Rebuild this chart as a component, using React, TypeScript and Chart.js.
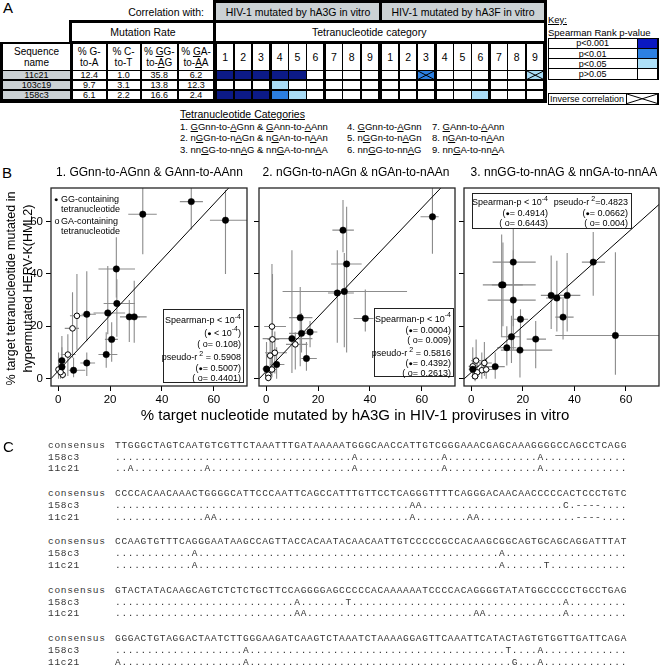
import React, { useEffect, useRef } from 'react';
import { Chart, registerables } from 'chart.js';

Chart.register(...registerables);

const SANS = "'Liberation Sans', Arial, Helvetica, sans-serif";
const MONO = "'Liberation Mono', 'Courier New', monospace";

// ---------------- Panel A data ----------------
const SEQUENCE_NAMES = ['11c21', '103c19', '158c3'];
const RATE_HEADERS = [['% G-', 'to-A'], ['% C-', 'to-T'], ['% _GG-', 'to-_AG'], ['% _GA-', 'to-_AA']];
const MUTATION_RATES = [
  [12.4, 1.0, 35.8, 6.2],
  [9.7, 3.1, 13.8, 12.3],
  [6.1, 2.2, 16.6, 2.4],
];
const CATEGORY_NUMBERS = [1, 2, 3, 4, 5, 6, 7, 8, 9];
// significance level: 3 = p<0.001, 2 = p<0.01, 1 = p<0.05, 0 = p>0.05
const SIG_HA3G = [
  [3, 3, 3, 3, 3, 0, 0, 0, 0],
  [0, 0, 0, 1, 0, 0, 0, 0, 0],
  [3, 3, 3, 2, 1, 0, 0, 0, 0],
];
const SIG_HA3F = [
  [0, 0, 2, 0, 0, 0, 0, 0, 1],
  [0, 0, 0, 0, 0, 0, 0, 0, 0],
  [0, 0, 0, 0, 0, 1, 0, 0, 0],
];
const INVERSE_HA3F = [
  [0, 0, 1, 0, 0, 0, 0, 0, 1],
  [0, 0, 0, 0, 0, 0, 0, 0, 0],
  [0, 0, 0, 0, 0, 0, 0, 0, 0],
];
const KEY_LABELS = ['p<0.001', 'p<0.01', 'p<0.05', 'p>0.05'];
const CATEGORY_COL1 = ['1. _GGnn-to-_AGnn & _GAnn-to-_AAnn', '2. n_GGn-to-n_AGn & n_GAn-to-n_AAn', '3. nn_GG-to-nn_AG & nn_GA-to-nn_AA'];
const CATEGORY_COL2 = ['4. _GGnn-to-_AGnn', '5. n_GGn-to-n_AGn', '6. nn_GG-to-nn_AG'];
const CATEGORY_COL3 = ['7. _GAnn-to-_AAnn', '8. n_GAn-to-n_AAn', '9. nn_GA-to-nn_AA'];

// ---------------- Panel B data ----------------
// each point: [x, y, xLow, xHigh, yLow, yHigh]
const AXIS_MIN = -2.8;
const AXIS_MAX = 72.8;
const X_TICKS = [0, 20, 40, 60];
const Y_TICKS = [0, 20, 40, 60];
const PLOT_TITLES = ['1. GGnn-to-AGnn & GAnn-to-AAnn', '2. nGGn-to-nAGn & nGAn-to-nAAn', '3. nnGG-to-nnAG & nnGA-to-nnAA'];

const P1_GG = [
  [32.6, 62.8, 27.0, 38.0, 47.5, 80],
  [51.3, 67.6, 46.9, 55.8, 57.0, 80],
  [64.5, 60.5, 58.5, 76.0, 40.0, 72.0],
  [22.4, 41.9, 15.5, 29.6, 31.0, 54.0],
  [22.6, 28.7, 17.5, 29.6, 16.0, 38.0],
  [19.1, 25.1, 13.6, 25.8, 17.0, 43.0],
  [27.4, 23.6, 23.8, 31.5, 14.0, 30.0],
  [29.3, 23.6, 26.5, 34.1, 13.7, 37.4],
  [11.0, 24.6, 9.0, 14.5, 14.3, 41.0],
  [20.6, 15.0, 18.0, 23.0, 6.5, 21.5],
  [18.5, 9.2, 15.5, 22.8, 4.2, 17.7],
  [11.0, 6.0, 8.5, 14.2, 1.0, 10.0],
  [5.9, 3.2, 4.0, 10.4, 0.5, 8.0],
  [1.4, 6.9, 0.5, 2.5, 0.9, 16.3],
  [1.4, 4.5, 0.3, 2.8, 0.5, 12.0],
];
const P1_GA = [
  [7.2, 24.0, 4.5, 11.0, 11.0, 40.0],
  [5.5, 19.2, 2.5, 8.0, 8.0, 33.0],
  [3.7, 9.2, 1.0, 6.7, 1.0, 17.0],
  [0.1, 3.5, -1.0, 1.5, 0.0, 10.0],
  [1.7, 1.5, 0.5, 3.0, 0.0, 5.0],
  [0.9, 2.5, 0.0, 2.0, 0.0, 6.0],
];
const P1_LINE = [[-2.8, 0.0], [66.2, 73.3]];

const P2_GG = [
  [64.1, 61.8, 59.5, 66.5, 47.7, 80],
  [29.6, 56.7, 25.5, 33.8, 48.3, 68.2],
  [31.0, 43.8, 25.0, 36.8, 10.0, 65.6],
  [27.4, 32.7, 23.8, 33.8, 13.7, 49.0],
  [30.1, 33.3, 6.3, 54.3, 12.0, 48.0],
  [38.2, 23.0, 33.7, 41.4, 18.0, 34.0],
  [13.1, 23.3, 8.8, 17.8, 4.7, 35.0],
  [13.6, 17.3, 8.8, 18.1, 10.0, 25.0],
  [16.9, 17.8, 13.3, 19.7, 12.0, 22.0],
  [9.9, 15.3, -1.4, 17.8, 2.2, 49.0],
  [15.5, 7.7, 13.5, 19.5, 3.0, 14.0],
  [4.0, 5.4, 1.5, 7.0, 0.0, 12.0],
  [0.1, 3.7, -1.5, 2.0, 0.0, 14.0],
];
const P2_GA = [
  [2.2, 19.9, -0.8, 7.6, 4.7, 43.8],
  [2.4, 15.0, 0.5, 5.0, 3.0, 40.0],
  [3.3, 9.9, -0.5, 8.0, 2.0, 18.0],
  [1.5, 8.8, 0.0, 3.5, 2.0, 16.0],
  [11.2, 13.1, 7.6, 15.9, 3.5, 17.7],
  [2.2, 3.5, 0.5, 4.0, 0.5, 8.0],
  [0.8, 1.5, 0.0, 2.0, 0.0, 4.0],
  [0.8, 0.3, 0.0, 1.8, -1.0, 2.0],
];
const P2_LINE = [[-2.8, -0.1], [67.8, 73.3]];

const P3_GG = [
  [47.3, 44.5, 42.9, 51.9, 31.7, 56.0],
  [16.3, 44.5, 8.3, 25.0, 20.0, 62.0],
  [11.8, 35.8, 4.5, 25.0, 16.0, 55.0],
  [12.3, 35.8, 8.0, 20.0, 20.0, 52.0],
  [16.3, 30.0, 6.4, 25.0, 11.0, 49.0],
  [31.0, 31.8, 27.0, 35.0, 19.0, 47.0],
  [37.2, 31.8, 31.4, 42.3, 18.0, 48.0],
  [33.2, 30.8, 29.0, 37.0, 18.0, 45.0],
  [35.6, 23.5, 32.6, 39.7, 15.0, 30.4],
  [19.1, 22.7, 16.0, 22.0, 11.2, 26.5],
  [55.9, 16.5, 32.6, 76.0, 1.5, 48.3],
  [25.0, 15.1, 21.5, 29.0, 4.0, 22.0],
  [15.6, 16.0, 11.5, 19.0, 6.0, 24.0],
  [13.8, 11.8, 10.0, 17.5, 5.0, 20.0],
  [18.9, 10.9, 11.5, 31.4, 0.4, 18.8],
  [9.3, 4.6, 4.6, 13.0, 0.0, 10.0],
  [0.6, 3.6, -1.0, 2.5, 0.0, 8.0],
];
const P3_GA = [
  [1.9, 6.9, 0.0, 4.0, 1.0, 15.0],
  [5.1, 6.0, 3.0, 8.0, 1.0, 14.0],
  [0.6, 4.7, -1.0, 3.0, 0.0, 12.0],
  [4.1, 3.2, 1.5, 7.0, 0.0, 10.0],
  [5.8, 3.5, 3.0, 9.0, 0.0, 8.0],
  [2.3, 2.4, 0.5, 4.5, 0.0, 6.0],
  [1.5, 0.9, 0.0, 3.0, -1.0, 4.0],
];
const P3_LINE = [[-2.8, -0.1], [72.8, 66.5]];

// ---------------- Panel C data ----------------
const CONSENSUS = [
  'TTGGGCTAGTCAATGTCGTTCTAAATTTGATAAAAATGGGCAACCATTGTCGGGAAACGAGCAAAGGGGCCAGCCTCAGG',
  'CCCCACAACAAACTGGGGCATTCCCAATTCAGCCATTTGTTCCTCAGGGTTTTCAGGGACAACAACCCCCACTCCCTGTC',
  'CCAAGTGTTTCAGGGAATAAGCCAGTTACCACAATACAACAATTGTCCCCCGCCACAAGCGGCAGTGCAGCAGGATTTAT',
  'GTACTATACAAGCAGTCTCTCTGCTTCCAGGGGAGCCCCCACAAAAAATCCCCACAGGGGTATATGGCCCCCTGCCTGAG',
  'GGGACTGTAGGACTAATCTTGGGAAGATCAAGTCTAAATCTAAAAGGAGTTCAAATTCATACTAGTGTGGTTGATTCAGA',
];
const MUT_158C3: [number, string][][] = [
  [[37, 'A'], [51, 'A'], [66, 'A']],
  [[46, 'A'], [47, 'A'], [70, 'C'], [72, '-'], [73, '-'], [74, '-'], [75, '-']],
  [[12, 'A'], [60, 'A']],
  [[28, 'A'], [36, 'T'], [70, 'A']],
  [[20, 'A'], [61, 'T'], [66, 'A']],
];
const MUT_11C21: [number, string][][] = [
  [[2, 'A'], [14, 'A'], [37, 'A'], [51, 'A'], [66, 'A']],
  [[14, 'A'], [15, 'A'], [46, 'A'], [55, 'A'], [56, 'A'], [72, '-'], [73, '-'], [74, '-'], [75, '-']],
  [[12, 'A'], [60, 'A'], [67, 'T']],
  [[28, 'A'], [29, 'A'], [56, 'A'], [57, 'A'], [70, 'A']],
  [[0, 'A'], [20, 'A'], [62, 'G'], [66, 'A']],
];

// ---------------- helpers ----------------
const abs = (x: number, y: number, w: number, h: number, extra: any = {}): any => ({
  position: 'absolute', left: x, top: y, width: w, height: h, boxSizing: 'border-box', ...extra,
});

function Txt({ x, y, s = 10, a = 'l', children, style = {} }: any) {
  const lh = Math.round(s * 1.3);
  const st: any = { position: 'absolute', top: y - lh / 2, lineHeight: lh + 'px', fontSize: s, whiteSpace: 'nowrap', ...style };
  if (a === 'l') st.left = x;
  else if (a === 'r') st.right = 664 - x;
  else { st.left = x - 300; st.width = 600; st.textAlign = 'center'; }
  return <div style={st}>{children}</div>;
}

function ul(s: string) {
  return s.split(/(_.)/).filter(Boolean).map((p, i) =>
    p[0] === '_' && p.length === 2 ? <u key={i}>{p[1]}</u> : <span key={i}>{p}</span>
  );
}

const Sup = ({ c }: any) => <span style={{ fontSize: '0.78em', position: 'relative', top: '-0.6em' }}>{c}</span>;
const Dot = () => <span style={{ fontSize: '0.8em' }}>●</span>;

function Cross({ w, h }: any) {
  return (
    <svg width={w} height={h} style={{ position: 'absolute', left: 0, top: 0 }}>
      <line x1={0} y1={0} x2={w} y2={h} stroke="#000" strokeWidth={1} />
      <line x1={0} y1={h} x2={w} y2={0} stroke="#000" strokeWidth={1} />
    </svg>
  );
}

// ---------------- Panel A ----------------
const TABLE_COLORS = ['#ffffff', '#a9dcf6', '#2c7fe0', '#0c1a86'];
const KEY_COLORS = ['#0a18c2', '#2c80e2', '#aee0f8', '#ffffff'];

function PanelA() {
  const GRAY = '#cbd1d4';
  const G0 = 216, F0 = 381, CW = 18.1;
  const ROW_Y = [71, 80.9, 90.8];
  const RH = 8.4;
  const RATE_X = [[73, 105.5], [107.5, 139.5], [141.5, 177], [179, 213]];
  const catX = (g: number, i: number) => g + i * CW + 0.75 + (i === 3 || i === 6 ? 0.5 : 0);
  const catW = (i: number) => CW - 1.5 - (i === 2 || i === 5 ? 0.5 : 0) - (i === 3 || i === 6 ? 0.5 : 0);
  const els: any[] = [];

  els.push(<div key="snh" style={abs(3, 44, 67, 25.5, { background: '#fff' })} />);
  els.push(<Txt key="snt1" x={36.5} y={51} s={10} a="c">Sequence</Txt>);
  els.push(<Txt key="snt2" x={36.5} y={62.5} s={10} a="c">name</Txt>);
  RATE_HEADERS.forEach((h, j) => {
    const [x0, x1] = RATE_X[j];
    els.push(<div key={'rh' + j} style={abs(x0, 44, x1 - x0, 25.5, { background: '#fff' })} />);
    els.push(<Txt key={'rt1' + j} x={(x0 + x1) / 2} y={51} s={10} a="c">{ul(h[0])}</Txt>);
    els.push(<Txt key={'rt2' + j} x={(x0 + x1) / 2} y={62.5} s={10} a="c">{ul(h[1])}</Txt>);
  });
  [G0, F0].forEach((g, gi) => {
    CATEGORY_NUMBERS.forEach((n, i) => {
      els.push(<div key={`ch${gi}-${i}`} style={abs(catX(g, i), 44, catW(i), 25.5, { background: '#fff' })} />);
      els.push(<Txt key={`cn${gi}-${i}`} x={catX(g, i) + catW(i) / 2} y={57} s={10.5} a="c">{n}</Txt>);
    });
  });
  SEQUENCE_NAMES.forEach((name, r) => {
    const y = ROW_Y[r];
    els.push(<div key={'sn' + r} style={abs(3, y, 67, RH, { background: GRAY })} />);
    els.push(<Txt key={'snn' + r} x={36.5} y={y + RH / 2} s={9} a="c">{name}</Txt>);
    MUTATION_RATES[r].forEach((v, j) => {
      const [x0, x1] = RATE_X[j];
      els.push(<div key={`rv${r}-${j}`} style={abs(x0, y, x1 - x0, RH, { background: '#fff' })} />);
      els.push(<Txt key={`rvt${r}-${j}`} x={(x0 + x1) / 2} y={y + RH / 2} s={9} a="c">{v.toFixed(1)}</Txt>);
    });
    [[G0, SIG_HA3G[r], null], [F0, SIG_HA3F[r], INVERSE_HA3F[r]]].forEach(([g, sig, inv]: any, gi) => {
      sig.forEach((lv: number, i: number) => {
        const w = catW(i);
        els.push(
          <div key={`cc${r}-${gi}-${i}`} style={abs(catX(g, i), y, w, RH, { background: TABLE_COLORS[lv] })}>
            {inv && inv[i] ? <Cross w={w} h={RH} /> : null}
          </div>
        );
      });
    });
  });

  return (
    <>
      <Txt x={3} y={8} s={15}>A</Txt>
      <Txt x={204} y={12} s={10.5} a="r">Correlation with:</Txt>
      <div style={abs(213, 0, 169, 23, { background: GRAY, border: '3px solid #000' })} />
      <div style={abs(379, 0, 168, 23, { background: GRAY, border: '3px solid #000' })} />
      <Txt x={298} y={11.5} s={10.5} a="c">HIV-1 mutated by hA3G in vitro</Txt>
      <Txt x={463} y={11.5} s={10.5} a="c">HIV-1 mutated by hA3F in vitro</Txt>
      <div style={abs(69, 20, 148, 24, { background: '#fff', border: '3px solid #000' })} />
      <Txt x={143} y={32} s={10.5} a="c">Mutation Rate</Txt>
      <div style={abs(213, 20, 334, 24, { background: '#fff', border: '3px solid #000' })} />
      <Txt x={312} y={32} s={10.5}>Tetranucleotide category</Txt>
      <div style={abs(0, 41.5, 547, 61, { background: '#000' })} />
      {els}

      <Txt x={548} y={20} s={9.5}><u>Key:</u></Txt>
      <Txt x={548} y={33} s={9.5}>Spearman Rank p-value</Txt>
      <div style={abs(547.5, 37.5, 111, 42.5, { background: '#000' })} />
      {KEY_LABELS.map((lab, k) => (
        <React.Fragment key={lab}>
          <div style={abs(549, 38.8 + k * 10.2, 87.5, 9.2, { background: '#fff' })} />
          <div style={abs(637.5, 38.8 + k * 10.2, 19.5, 9.2, { background: KEY_COLORS[k] })} />
          <Txt x={592.7} y={38.8 + k * 10.2 + 4.6} s={9} a="c">{lab}</Txt>
        </React.Fragment>
      ))}
      <div style={abs(547.5, 92.5, 111, 12.5, { background: '#000' })} />
      <div style={abs(549, 94, 76.5, 9.5, { background: '#fff' })} />
      <Txt x={587} y={98.7} s={9} a="c">Inverse correlation</Txt>
      <div style={abs(626.5, 94, 30.5, 9.5, { background: '#fff' })}><Cross w={30.5} h={9.5} /></div>

      <Txt x={180} y={114} s={10.5}><u>Tetranucleotide Categories</u></Txt>
      {CATEGORY_COL1.map((t, i) => <Txt key={'c1' + i} x={180} y={127 + i * 11.3} s={9.5}>{ul(t)}</Txt>)}
      {CATEGORY_COL2.map((t, i) => <Txt key={'c2' + i} x={347} y={127 + i * 11.3} s={9.5}>{ul(t)}</Txt>)}
      {CATEGORY_COL3.map((t, i) => <Txt key={'c3' + i} x={432} y={127 + i * 11.3} s={9.5}>{ul(t)}</Txt>)}
    </>
  );
}

// ---------------- Panel B ----------------
function ScatterPanel({ left, top, width, height, frame, gg, ga, line, showYLabels }: any) {
  const ref = useRef<HTMLCanvasElement>(null);
  useEffect(() => {
    const yw = frame.l - left;
    const pr = left + width - frame.r;
    const pt = frame.t - top;
    const xh = top + height - frame.b;
    const errPlugin = {
      id: 'errbars',
      beforeDatasetsDraw(chart: any) {
        const { ctx, chartArea: a, scales } = chart;
        const xs = scales.x, ys = scales.y;
        ctx.save();
        ctx.beginPath();
        ctx.rect(a.left, a.top, a.right - a.left, a.bottom - a.top);
        ctx.clip();
        ctx.strokeStyle = '#8c8c8c';
        ctx.lineWidth = 1.1;
        for (const p of [...ga, ...gg]) {
          const px = xs.getPixelForValue(p[0]);
          const py = ys.getPixelForValue(p[1]);
          ctx.beginPath();
          ctx.moveTo(xs.getPixelForValue(p[2]), py);
          ctx.lineTo(xs.getPixelForValue(p[3]), py);
          ctx.moveTo(px, ys.getPixelForValue(p[4]));
          ctx.lineTo(px, ys.getPixelForValue(p[5]));
          ctx.stroke();
        }
        ctx.restore();
      },
    };
    const framePlugin = {
      id: 'frame',
      afterDatasetsDraw(chart: any) {
        const { ctx, chartArea: a } = chart;
        ctx.save();
        ctx.strokeStyle = '#262626';
        ctx.lineWidth = 1.3;
        ctx.strokeRect(a.left, a.top, a.right - a.left, a.bottom - a.top);
        ctx.restore();
      },
    };
    const tickFont = { family: SANS, size: 11.5 };
    const grid = { display: true, drawOnChartArea: false, drawTicks: true, tickLength: 5, color: '#000', lineWidth: 1 };
    const chart = new Chart(ref.current as HTMLCanvasElement, {
      type: 'scatter',
      data: {
        datasets: [
          {
            data: gg.map((p: number[]) => ({ x: p[0], y: p[1] })),
            pointRadius: 3.2, pointBackgroundColor: '#000', pointBorderColor: '#000', pointBorderWidth: 0.5,
          },
          {
            data: ga.map((p: number[]) => ({ x: p[0], y: p[1] })),
            pointRadius: 2.8, pointBackgroundColor: '#fff', pointBorderColor: '#000', pointBorderWidth: 1,
          },
          {
            data: line.map((p: number[]) => ({ x: p[0], y: p[1] })),
            showLine: true, borderColor: '#000', borderWidth: 1, pointRadius: 0, fill: false, clip: 0,
          },
        ],
      } as any,
      options: {
        animation: false,
        responsive: false,
        maintainAspectRatio: false,
        devicePixelRatio: 1,
        events: [],
        layout: { padding: { left: 0, right: pr, top: pt, bottom: 0 } },
        plugins: { legend: { display: false }, tooltip: { enabled: false }, title: { display: false } },
        scales: {
          x: {
            type: 'linear', min: AXIS_MIN, max: AXIS_MAX,
            afterBuildTicks: (s: any) => { s.ticks = X_TICKS.map((v) => ({ value: v })); },
            afterFit: (s: any) => { s.height = xh; },
            grid, border: { display: false },
            ticks: { font: tickFont, color: '#000', padding: 2, maxRotation: 0, autoSkip: false },
          },
          y: {
            type: 'linear', min: AXIS_MIN, max: AXIS_MAX,
            afterBuildTicks: (s: any) => { s.ticks = Y_TICKS.map((v) => ({ value: v })); },
            afterFit: (s: any) => { s.width = yw; },
            grid, border: { display: false },
            ticks: { display: showYLabels, font: tickFont, color: '#000', padding: 3, autoSkip: false },
          },
        },
      } as any,
      plugins: [errPlugin, framePlugin],
    });
    return () => chart.destroy();
  }, []);
  return <canvas ref={ref} width={width} height={height} style={abs(left, top, width, height)} />;
}

function PanelB() {
  const FT = 188, FB = 386;
  return (
    <>
      <ScatterPanel left={20} top={176} width={232} height={234} frame={{ l: 51, r: 248, t: FT, b: FB }} gg={P1_GG} ga={P1_GA} line={P1_LINE} showYLabels={true} />
      <ScatterPanel left={250} top={176} width={210} height={234} frame={{ l: 259, r: 456, t: FT, b: FB }} gg={P2_GG} ga={P2_GA} line={P2_LINE} showYLabels={false} />
      <ScatterPanel left={455} top={176} width={209} height={234} frame={{ l: 464, r: 661, t: FT, b: FB }} gg={P3_GG} ga={P3_GA} line={P3_LINE} showYLabels={false} />

      <Txt x={2} y={173} s={15}>B</Txt>
      <Txt x={149.5} y={172} s={12} a="c">{PLOT_TITLES[0]}</Txt>
      <Txt x={356} y={172} s={12} a="c">{PLOT_TITLES[1]}</Txt>
      <Txt x={564} y={172} s={12} a="c">{PLOT_TITLES[2]}</Txt>

      <div style={abs(18.5 - 130, 288 - 16.5, 260, 33, { transform: 'rotate(-90deg)', textAlign: 'center', fontSize: 12.5, lineHeight: '16.5px', whiteSpace: 'nowrap' })}>
        <div>% target tetranucleotide mutated in</div>
        <div>hypermutated HERV-K(HML2)</div>
      </div>
      <Txt x={355} y={415} s={15} a="c">% target nucleotide mutated by hA3G in HIV-1 proviruses in vitro</Txt>

      <Txt x={54} y={199} s={9}><Dot /></Txt>
      <Txt x={61} y={199} s={9}>GG-containing</Txt>
      <Txt x={61} y={209} s={9}>tetranucleotide</Txt>
      <Txt x={54.5} y={220.5} s={9}>o</Txt>
      <Txt x={61} y={220.5} s={9}>GA-containing</Txt>
      <Txt x={61} y={230.5} s={9}>tetranucleotide</Txt>

      <div style={abs(163, 309, 81, 74, { border: '1px solid #222', background: '#fff' })} />
      <Txt x={241} y={320} s={9} a="r">Spearman-p &lt; 10<Sup c="-4" /></Txt>
      <Txt x={241} y={332.5} s={9} a="r">(<Dot /> &lt; 10<Sup c="-4" />)</Txt>
      <Txt x={241} y={343.5} s={9} a="r">( o= 0.108)</Txt>
      <Txt x={241} y={357} s={9} a="r">pseudo-r<Sup c=" 2" /> = 0.5908</Txt>
      <Txt x={241} y={367.5} s={9} a="r">(<Dot />= 0.5007)</Txt>
      <Txt x={241} y={378} s={9} a="r">( o= 0.4401)</Txt>

      <div style={abs(374, 308, 80, 69, { border: '1px solid #222', background: '#fff' })} />
      <Txt x={451} y={318.5} s={9} a="r">Spearman-p &lt; 10<Sup c="-4" /></Txt>
      <Txt x={451} y={329.5} s={9} a="r">(<Dot />= 0.0004)</Txt>
      <Txt x={451} y={340} s={9} a="r">( o= 0.009)</Txt>
      <Txt x={451} y={353} s={9} a="r">pseudo-r<Sup c=" 2" /> = 0.5816</Txt>
      <Txt x={451} y={363} s={9} a="r">(<Dot />= 0.4392)</Txt>
      <Txt x={451} y={372.5} s={9} a="r">( o= 0.2613)</Txt>

      <div style={abs(472, 193, 160, 36, { border: '1px solid #222', background: '#fff' })} />
      <Txt x={548} y={202} s={9} a="r">Spearman-p &lt; 10<Sup c="-4" /></Txt>
      <Txt x={548} y={212.5} s={9} a="r">(<Dot />= 0.4914)</Txt>
      <Txt x={548} y={222.5} s={9} a="r">( o= 0.6443)</Txt>
      <Txt x={628} y={202} s={9} a="r">pseudo-r<Sup c=" 2" />=0.4823</Txt>
      <Txt x={628} y={212.5} s={9} a="r">(<Dot />= 0.0662)</Txt>
      <Txt x={628} y={222.5} s={9} a="r">( o= 0.004)</Txt>
    </>
  );
}

// ---------------- Panel C ----------------
function mutantRow(muts: [number, string][], len: number) {
  const arr = new Array(len).fill('.');
  muts.forEach(([i, c]) => { arr[i] = c; });
  return arr.join('');
}

function PanelC() {
  const monoStyle = { fontFamily: MONO, letterSpacing: '0.7px', color: '#333' };
  const rows: any[] = [];
  CONSENSUS.forEach((seq, b) => {
    const yc = 445.7 + b * 48.35;
    const lines: [string, string][] = [
      ['consensus', seq],
      ['158c3', mutantRow(MUT_158C3[b], seq.length)],
      ['11c21', mutantRow(MUT_11C21[b], seq.length)],
    ];
    lines.forEach(([lab, s], k) => {
      const y = yc + [0, 12, 23.7][k];
      rows.push(<Txt key={`l${b}-${k}`} x={48} y={y} s={9.5} style={monoStyle}>{lab}</Txt>);
      rows.push(<Txt key={`s${b}-${k}`} x={115} y={y} s={9.5} style={monoStyle}>{s}</Txt>);
    });
  });
  return (
    <>
      <Txt x={3} y={447} s={15}>C</Txt>
      {rows}
    </>
  );
}

export default function App() {
  return (
    <div style={{ position: 'fixed', left: 0, top: 0, width: 664, height: 668, background: '#fff', overflow: 'hidden', fontFamily: SANS, color: '#000' }}>
      <PanelA />
      <PanelB />
      <PanelC />
    </div>
  );
}
